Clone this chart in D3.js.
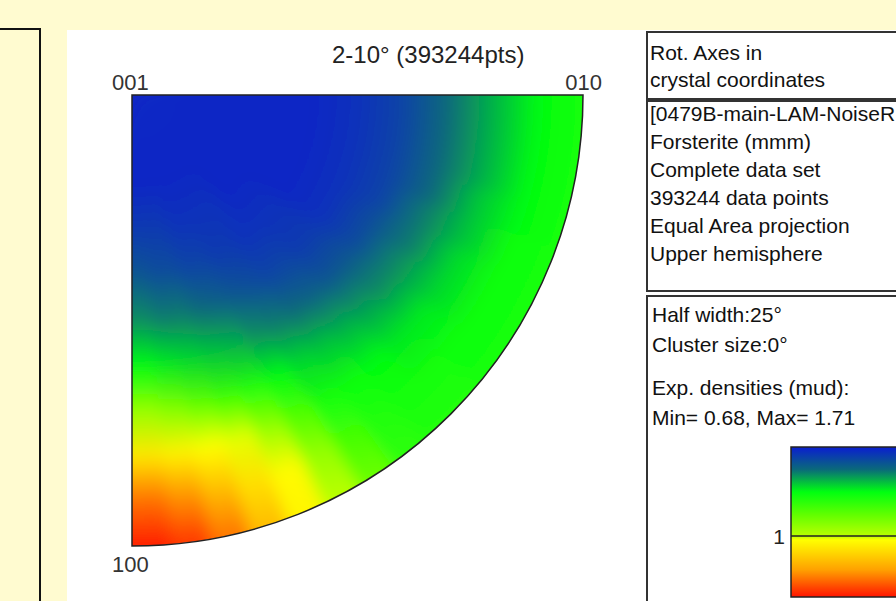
<!DOCTYPE html>
<html>
<head>
<meta charset="utf-8">
<script src="https://d3js.org/d3.v7.min.js"></script>
<style>
  html, body { margin: 0; padding: 0; background: #fffbd0; }
  svg { display: block; }
  text { font-family: "Liberation Sans", Arial, sans-serif; }
</style>
</head>
<body>
<svg id="chart" width="896" height="601"></svg>
<script>
// azimuth sectors (deg, from 010 round to 100), 5 deg wide, given by centre
const azimuths = [2.5, 7.5, 12.5, 17.5, 22.5, 27.5, 32.5, 37.5, 42.5,
  47.5, 52.5, 57.5, 62.5, 67.5, 72.5, 77.5, 82.5, 87.5];
// radial sample points, fraction of the distance 001 -> rim
const radii = [0, 0.1, 0.2, 0.3, 0.4, 0.5, 0.6, 0.7, 0.8, 0.9, 1];
// densities (mud): one row per sector, going outward
const density = [
  [0.69, 0.69, 0.69, 0.69, 0.69, 0.70, 0.72, 0.76, 0.80, 0.84, 0.86],
  [0.69, 0.69, 0.69, 0.69, 0.69, 0.70, 0.72, 0.76, 0.80, 0.84, 0.86],
  [0.69, 0.69, 0.69, 0.69, 0.69, 0.70, 0.72, 0.76, 0.80, 0.84, 0.86],
  [0.69, 0.69, 0.69, 0.69, 0.69, 0.70, 0.72, 0.76, 0.81, 0.84, 0.86],
  [0.69, 0.69, 0.69, 0.69, 0.69, 0.70, 0.72, 0.77, 0.81, 0.85, 0.86],
  [0.69, 0.69, 0.69, 0.69, 0.69, 0.70, 0.73, 0.77, 0.82, 0.85, 0.86],
  [0.69, 0.69, 0.69, 0.69, 0.69, 0.70, 0.73, 0.78, 0.82, 0.85, 0.86],
  [0.69, 0.69, 0.69, 0.69, 0.70, 0.71, 0.74, 0.78, 0.83, 0.85, 0.86],
  [0.69, 0.69, 0.69, 0.69, 0.70, 0.71, 0.74, 0.79, 0.83, 0.86, 0.87],
  [0.69, 0.69, 0.69, 0.69, 0.70, 0.72, 0.75, 0.80, 0.84, 0.86, 0.87],
  [0.69, 0.69, 0.69, 0.70, 0.70, 0.72, 0.76, 0.81, 0.85, 0.87, 0.88],
  [0.69, 0.69, 0.69, 0.70, 0.71, 0.73, 0.77, 0.82, 0.86, 0.90, 0.93],
  [0.69, 0.69, 0.69, 0.70, 0.71, 0.74, 0.78, 0.84, 0.91, 0.97, 1.00],
  [0.69, 0.69, 0.69, 0.70, 0.72, 0.75, 0.80, 0.87, 0.97, 1.06, 1.08],
  [0.69, 0.69, 0.69, 0.70, 0.72, 0.76, 0.81, 0.89, 1.03, 1.16, 1.29],
  [0.69, 0.69, 0.69, 0.71, 0.73, 0.77, 0.82, 0.92, 1.05, 1.30, 1.49],
  [0.69, 0.69, 0.69, 0.71, 0.73, 0.77, 0.83, 0.95, 1.09, 1.43, 1.63],
  [0.69, 0.69, 0.69, 0.71, 0.74, 0.78, 0.84, 0.97, 1.13, 1.50, 1.69]
];
const minDensity = 0.68;
const maxDensity = 1.71;

// colour bar: position (0 top .. 1 bottom) and colour
const legendStops = [0, 0.15, 0.3, 0.45, 0.593, 0.62, 0.82, 1];
const legendColors = ['#0a1ed0', '#0a6a7a', '#00ff10', '#60ff00', '#b8ff00', '#ffff00', '#ffa000', '#ff1400'];
const legendTicks = [1];

const titleText = '2-10\u00b0 (393244pts)';
const poleLabels = ['001', '010', '100'];
const box1Lines = ['Rot. Axes in', 'crystal coordinates'];
const box2Lines = ['[0479B-main-LAM-NoiseR', 'Forsterite (mmm)', 'Complete data set',
  '393244 data points', 'Equal Area projection', 'Upper hemisphere'];
const box3Lines = ['Half width:25\u00b0', 'Cluster size:0\u00b0'];
const box3Lines2 = ['Exp. densities (mud):', 'Min= 0.68, Max= 1.71'];

const svg = d3.select('#chart');
const defs = svg.append('defs');

// page frame
svg.append('rect').attr('x', 67).attr('y', 30).attr('width', 829).attr('height', 571).attr('fill', '#fff');
svg.append('path').attr('d', 'M0,29H40V601').attr('fill', 'none').attr('stroke', '#111').attr('stroke-width', 2);

// pole figure geometry
const cx = 132, cy = 95, R = 451;
const pos = d3.scaleLinear().domain([minDensity, 1, maxDensity]).range([0, 0.593, 1]).clamp(true);
const colorAt = d3.scaleLinear().domain(legendStops).range(legendColors).interpolate(d3.interpolateRgb);
const color = d => colorAt(pos(d));

const halfStep = 2.5;
const rad = d3.scaleLinear().domain([0, 90]).range([0, Math.PI / 2]);
const pt = (deg, r) => [cx + r * Math.cos(rad(deg)), cy + r * Math.sin(rad(deg))];

// one radial gradient per sector
azimuths.forEach((a, i) => {
  const g = defs.append('radialGradient').attr('id', `sec${i}`)
    .attr('gradientUnits', 'userSpaceOnUse')
    .attr('cx', cx).attr('cy', cy).attr('fx', cx).attr('fy', cy).attr('r', R);
  g.selectAll('stop').data(density[i]).join('stop')
    .attr('offset', (d, j) => radii[j])
    .attr('stop-color', d => color(d));
});

// soften the sector steps a little
defs.append('filter').attr('id', 'soft')
  .attr('filterUnits', 'userSpaceOnUse')
  .attr('x', cx - 80).attr('y', cy - 80).attr('width', R + 160).attr('height', R + 160)
  .append('feGaussianBlur').attr('stdDeviation', 8);

const quarter = `M${cx},${cy}L${cx + R},${cy}A${R},${R} 0 0 1 ${cx},${cy + R}Z`;
svg.append('clipPath').attr('id', 'quarter').append('path').attr('d', quarter);

const field = svg.append('g').attr('clip-path', 'url(#quarter)');
field.append('path').attr('d', quarter).attr('fill', color(density[0][0]));

const last = azimuths.length - 1;
field.append('g').attr('filter', 'url(#soft)')
  .selectAll('path').data(azimuths).join('path')
  .attr('d', (a, i) => {
    const a0 = i === 0 ? -15 : a - halfStep;
    const a1 = i === last ? 105 : a + halfStep + 0.5;
    const ro = R + 30;
    const p0 = pt(a0, ro), p1 = pt(a1, ro);
    return `M${cx},${cy}L${p0[0]},${p0[1]}A${ro},${ro} 0 0 1 ${p1[0]},${p1[1]}Z`;
  })
  .attr('fill', (a, i) => `url(#sec${i})`);

svg.append('path').attr('d', quarter).attr('fill', 'none').attr('stroke', '#222').attr('stroke-width', 1.5);

// labels
svg.append('text').attr('x', 332).attr('y', 63).attr('font-size', 24).attr('fill', '#222').text(titleText);
svg.append('text').attr('x', 112).attr('y', 90).attr('font-size', 22).attr('fill', '#333').text(poleLabels[0]);
svg.append('text').attr('x', 602).attr('y', 90).attr('font-size', 22).attr('fill', '#333').attr('text-anchor', 'end').text(poleLabels[1]);
svg.append('text').attr('x', 112).attr('y', 572).attr('font-size', 22).attr('fill', '#333').text(poleLabels[2]);

// info boxes
const boxes = [
  { y: 32, h: 67 },
  { y: 101, h: 190 },
  { y: 296, h: 400 }
];
svg.selectAll('rect.box').data(boxes).join('rect')
  .attr('class', 'box')
  .attr('x', 647).attr('y', d => d.y).attr('width', 300).attr('height', d => d.h)
  .attr('fill', 'none').attr('stroke', '#333').attr('stroke-width', 2);

function lines(list, x, y0, step) {
  svg.append('g').selectAll('text').data(list).join('text')
    .attr('x', x).attr('y', (d, i) => y0 + i * step)
    .attr('font-size', 21).attr('fill', '#111').text(d => d);
}
lines(box1Lines, 650, 60, 27);
lines(box2Lines, 650, 121, 28);
lines(box3Lines, 652, 322, 30);
lines(box3Lines2, 652, 395, 30);

// colour bar
const bar = { x: 791, y: 447, w: 200, h: 150 };
const grad = defs.append('linearGradient').attr('id', 'barGrad')
  .attr('x1', 0).attr('x2', 0).attr('y1', 0).attr('y2', 1);
grad.selectAll('stop').data(legendStops).join('stop')
  .attr('offset', d => d).attr('stop-color', (d, i) => legendColors[i]);
svg.append('rect').attr('x', bar.x).attr('y', bar.y).attr('width', bar.w).attr('height', bar.h)
  .attr('fill', 'url(#barGrad)').attr('stroke', '#222').attr('stroke-width', 1.5);

const barScale = d3.scaleLinear().domain([minDensity, 1, maxDensity]).range([bar.y, bar.y + 0.593 * bar.h, bar.y + bar.h]);
const ticks = svg.append('g').selectAll('g').data(legendTicks).join('g')
  .attr('transform', d => `translate(0,${barScale(d)})`);
ticks.append('line').attr('x1', bar.x).attr('x2', bar.x + bar.w).attr('stroke', '#222').attr('stroke-width', 1.5);
ticks.append('text').attr('x', bar.x - 6).attr('y', 8).attr('text-anchor', 'end')
  .attr('font-size', 21).attr('fill', '#222').text(d => d);
</script>
</body>
</html>
